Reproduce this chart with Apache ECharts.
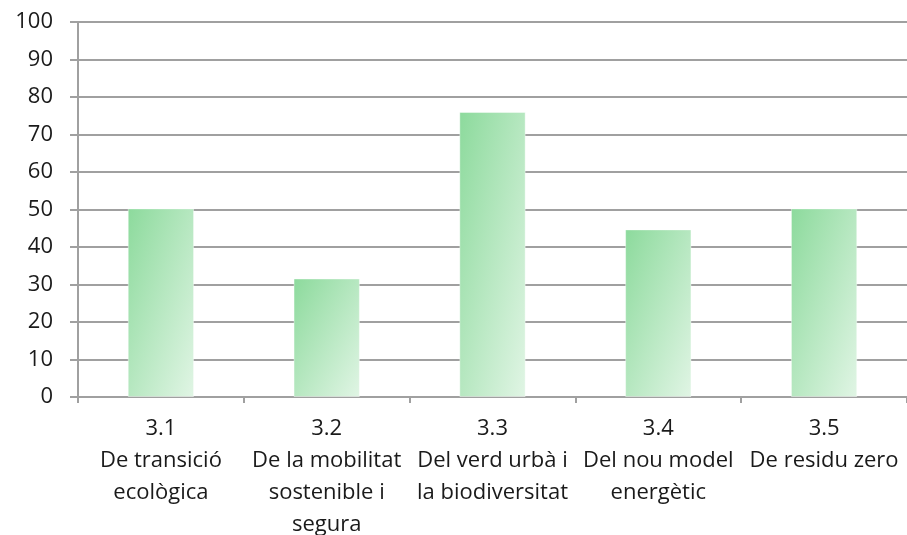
<!DOCTYPE html>
<html>
<head>
<meta charset="utf-8">
<script src="https://cdn.jsdelivr.net/npm/echarts@6/dist/echarts.min.js"></script>
<style>
  html, body { margin: 0; padding: 0; background: #fff; }
  #chart { width: 907px; height: 535px; }
</style>
</head>
<body>
<div id="chart"></div>
<script>
const categories = [
  '3.1\nDe transició\necològica',
  '3.2\nDe la mobilitat\nsostenible i\nsegura',
  '3.3\nDel verd urbà i\nla biodiversitat',
  '3.4\nDel nou model\nenergètic',
  '3.5\nDe residu zero'
];
const values = [50.3, 31.6, 76, 44.7, 50.3];

// gradient like Excel's diagonal fill: top-left dark, bottom-right light,
// isolines parallel to the bar's other diagonal
function barFill(v) {
  const w = 66, h = v * 3.75;
  const d = h * h + w * w;
  return new echarts.graphic.LinearGradient(0, 0, 2 * h * h / d, 2 * w * w / d, [
    { offset: 0, color: '#8cda9c' },
    { offset: 1, color: '#e1f5e5' }
  ]);
}

const chart = echarts.init(document.getElementById('chart'));

chart.setOption({
  animation: false,
  grid: { left: 78, right: 0, top: 22, bottom: 138, outerBoundsMode: 'none', containLabel: false },
  xAxis: {
    type: 'category',
    data: categories,
    axisLine: { lineStyle: { color: '#a0a0a0', width: 2 } },
    axisTick: { show: true, length: 6, lineStyle: { color: '#a0a0a0', width: 2 } },
    axisLabel: {
      interval: 0,
      margin: 16,
      color: '#1a1a1a',
      fontFamily: 'Open Sans',
      fontSize: 22,
      lineHeight: 32
    }
  },
  yAxis: {
    type: 'value',
    min: 0,
    max: 100,
    interval: 10,
    axisLine: { show: true, lineStyle: { color: '#a0a0a0', width: 2 } },
    axisTick: { show: true, length: 8, lineStyle: { color: '#a0a0a0', width: 2 } },
    splitLine: { lineStyle: { color: '#a0a0a0', width: 2 } },
    axisLabel: {
      margin: 25,
      color: '#1a1a1a',
      fontFamily: 'Open Sans',
      fontSize: 22
    }
  },
  series: [{
    type: 'bar',
    data: values.map(v => ({ value: v, itemStyle: { color: barFill(v) } })),
    barWidth: '40%',
    itemStyle: {
      borderColor: 'rgba(255,255,255,0.4)',
      borderWidth: 1
    }
  }]
});
</script>
</body>
</html>
